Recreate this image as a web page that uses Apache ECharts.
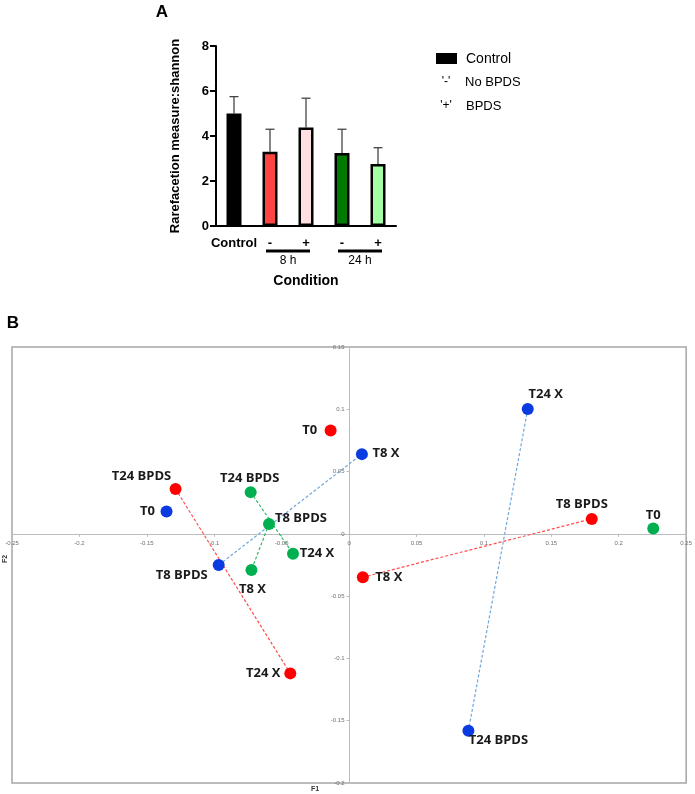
<!DOCTYPE html>
<html>
<head>
<meta charset="utf-8">
<script src="https://cdn.jsdelivr.net/npm/echarts@6/dist/echarts.min.js"></script>
<style>html,body{margin:0;padding:0;background:#fff;}#chart{width:695px;height:794px;}</style>
</head>
<body>
<div id="chart"></div>
<script>
// ---- Panel A data ----
const categories = ['Control', '-', '+', '-', '+'];
const shannonMean = [5.0, 3.3, 4.38, 3.24, 2.76];
const shannonUpper = [5.75, 4.3, 5.68, 4.3, 3.48];
const barColors = ['#000000', '#ff4444', '#ffdfe2', '#007a00', '#a3ffa3'];
const timeGroups = [[1, 2, '8 h'], [3, 4, '24 h']];

// ---- Panel B data ----
const f1Range = [-0.25, 0.25];
const f2Range = [-0.2, 0.15];

const redNames = ['T0', 'T24 BPDS', 'T24 X', 'T8 X', 'T8 BPDS'];
const redF1 = [-0.0137, -0.1287, -0.0436, 0.0102, 0.180];
const redF2 = [0.083, 0.036, -0.112, -0.0348, 0.012];
const redLinks = [[1, 2], [3, 4]];

const blueNames = ['T0', 'T8 BPDS', 'T8 X', 'T24 X', 'T24 BPDS'];
const blueF1 = [-0.1354, -0.0967, 0.0095, 0.1325, 0.0885];
const blueF2 = [0.018, -0.025, 0.064, 0.1003, -0.158];
const blueLinks = [[1, 2], [3, 4]];

const greenNames = ['T24 BPDS', 'T8 BPDS', 'T24 X', 'T8 X', 'T0'];
const greenF1 = [-0.073, -0.0594, -0.0416, -0.0724, 0.2256];
const greenF2 = [0.0335, 0.008, -0.016, -0.029, 0.0043];
const greenLinks = [[0, 2], [1, 3]];

// label placement (style only): offset of label centre from point centre
const redLabelOff = [[-21, 0], [-34, -13], [-27, 0], [26, 0], [-10, -15]];
const blueLabelOff = [[-19, 0], [-37, 10], [24, -1], [18, -15], [30, 10]];
const greenLabelOff = [[-1, -14], [32, -6], [24, 0], [1, 19], [0, -13]];

const W = 695, H = 794;
const gridB = {left: 12, right: 8, top: 347, bottom: 11};
const gridBW = W - gridB.left - gridB.right;
const gridBH = H - gridB.top - gridB.bottom;
// place the axes through the origin (as the reference draws them)
const xAxisShift = -gridBH * (0 - f2Range[0]) / (f2Range[1] - f2Range[0]);
const yAxisShift = -gridBW * (0 - f1Range[0]) / (f1Range[1] - f1Range[0]);

const chart = echarts.init(document.getElementById('chart'), null, {renderer: 'canvas'});

function scatterSeries(name, color, names, xs, ys, offs) {
  return {
    type: 'scatter', name: name, xAxisIndex: 1, yAxisIndex: 1, z: 5,
    symbolSize: 12,
    itemStyle: {color: color, opacity: 1},
    data: names.map((n, i) => ({
      value: [xs[i], ys[i]], name: n,
      label: {
        show: true, position: 'inside', offset: offs[i],
        formatter: n, color: '#1a1a1a', fontFamily: 'Open Sans', fontWeight: 'bold', fontSize: 13
      }
    })),
    emphasis: {disabled: true}
  };
}
function linkSeries(color, links, xs, ys) {
  return links.map(l => ({
    type: 'line', xAxisIndex: 1, yAxisIndex: 1, z: 2, symbol: 'none', silent: true,
    lineStyle: {color: color, width: 1.2, type: [3, 2]},
    data: [[xs[l[0]], ys[l[0]]], [xs[l[1]], ys[l[1]]]]
  }));
}
const fmt = v => String(parseFloat(v.toFixed(2)));
const tinyLabel = {fontSize: 6, color: '#707070', fontFamily: 'Liberation Sans', formatter: fmt, showMinLabel: true, showMaxLabel: true};

const option = {
  animation: false,
  backgroundColor: '#ffffff',
  grid: [
    {left: 216, top: 46, width: 180, height: 180},
    Object.assign({show: true, borderColor: '#a6a6a6', borderWidth: 1.5}, gridB)
  ],
  xAxis: [
    {
      gridIndex: 0, type: 'category', data: categories,
      axisLine: {lineStyle: {color: '#000', width: 2}},
      axisTick: {alignWithLabel: true, length: 6, lineStyle: {color: '#000', width: 2}},
      axisLabel: {color: '#000', fontFamily: 'Liberation Sans', fontWeight: 'bold', fontSize: 13, margin: 11, interval: 0},
      name: 'Condition', nameLocation: 'middle', nameGap: 48,
      nameTextStyle: {color: '#000', fontFamily: 'Liberation Sans', fontWeight: 'bold', fontSize: 14}
    },
    {
      gridIndex: 1, type: 'value', min: f1Range[0], max: f1Range[1], interval: 0.05,
      position: 'bottom', offset: xAxisShift,
      axisLine: {onZero: false, lineStyle: {color: '#bdbdbd', width: 1}},
      axisTick: {show: true, length: 3, lineStyle: {color: '#bdbdbd'}},
      axisLabel: Object.assign({margin: 6}, tinyLabel),
      splitLine: {show: false}
    }
  ],
  yAxis: [
    {
      gridIndex: 0, type: 'value', min: 0, max: 8, interval: 2,
      axisLine: {show: true, lineStyle: {color: '#000', width: 2}},
      axisTick: {show: true, length: 6, lineStyle: {color: '#000', width: 2}},
      axisLabel: {color: '#000', fontFamily: 'Liberation Sans', fontWeight: 'bold', fontSize: 13, margin: 7},
      splitLine: {show: false},
      name: 'Rarefacetion measure:shannon', nameLocation: 'middle', nameGap: 34, nameRotate: 90,
      nameTextStyle: {color: '#000', fontFamily: 'Liberation Sans', fontWeight: 'bold', fontSize: 13}
    },
    {
      gridIndex: 1, type: 'value', min: f2Range[0], max: f2Range[1], interval: 0.05,
      position: 'left', offset: yAxisShift,
      axisLine: {show: true, onZero: false, lineStyle: {color: '#bdbdbd', width: 1}},
      axisTick: {show: true, length: 3, lineStyle: {color: '#bdbdbd'}},
      axisLabel: Object.assign({margin: 5}, tinyLabel),
      splitLine: {show: false}
    }
  ],
  series: [
    {
      type: 'bar', xAxisIndex: 0, yAxisIndex: 0, barWidth: 15, z: 3,
      data: shannonMean.map((v, i) => ({value: v, itemStyle: {color: barColors[i]}})),
      itemStyle: {borderColor: '#000', borderWidth: 2.5}
    },
    {
      type: 'custom', xAxisIndex: 0, yAxisIndex: 0, z: 2, silent: true,
      data: shannonMean.map((v, i) => [i, v, shannonUpper[i]]),
      renderItem: function (params, api) {
        const lo = api.coord([api.value(0), api.value(1)]);
        const hi = api.coord([api.value(0), api.value(2)]);
        const st = {stroke: '#444', lineWidth: 1.3};
        return {type: 'group', children: [
          {type: 'line', shape: {x1: lo[0], y1: lo[1], x2: hi[0], y2: hi[1]}, style: st},
          {type: 'line', shape: {x1: hi[0] - 4.5, y1: hi[1], x2: hi[0] + 4.5, y2: hi[1]}, style: st}
        ]};
      }
    },
    {
      type: 'custom', xAxisIndex: 0, yAxisIndex: 0, silent: true, clip: false,
      data: timeGroups,
      renderItem: function (params, api) {
        const a = api.coord([api.value(0), 0]);
        const b = api.coord([api.value(1), 0]);
        const y = a[1] + 25;
        return {type: 'group', children: [
          {type: 'line', shape: {x1: a[0] - 4, y1: y, x2: b[0] + 4, y2: y}, style: {stroke: '#000', lineWidth: 3}},
          {type: 'text', x: (a[0] + b[0]) / 2, y: y + 10,
            style: {text: timeGroups[params.dataIndex][2], fill: '#000', fontFamily: 'Liberation Sans', fontSize: 12, align: 'center', verticalAlign: 'middle'}}
        ]};
      }
    },
    ...linkSeries('#ff4d4d', redLinks, redF1, redF2),
    ...linkSeries('#6ea6dd', blueLinks, blueF1, blueF2),
    ...linkSeries('#2dbb66', greenLinks, greenF1, greenF2),
    scatterSeries('red', '#ff0000', redNames, redF1, redF2, redLabelOff),
    scatterSeries('blue', '#0a3be0', blueNames, blueF1, blueF2, blueLabelOff),
    scatterSeries('green', '#00b050', greenNames, greenF1, greenF2, greenLabelOff)
  ],
  graphic: [
    {type: 'text', x: 162, y: 12, style: {text: 'A', fill: '#000', fontFamily: 'Liberation Sans', fontWeight: 'bold', fontSize: 17, align: 'center', verticalAlign: 'middle'}},
    {type: 'text', x: 13, y: 323, style: {text: 'B', fill: '#000', fontFamily: 'Liberation Sans', fontWeight: 'bold', fontSize: 17, align: 'center', verticalAlign: 'middle'}},
    {type: 'rect', shape: {x: 436, y: 53, width: 21, height: 11}, style: {fill: '#000'}},
    {type: 'text', x: 466, y: 59, style: {text: 'Control', fill: '#000', fontFamily: 'Liberation Sans', fontSize: 14, verticalAlign: 'middle'}},
    {type: 'text', x: 446, y: 82, style: {text: "'-'", fill: '#000', fontFamily: 'Liberation Sans', fontSize: 12, align: 'center', verticalAlign: 'middle'}},
    {type: 'text', x: 465, y: 82, style: {text: 'No BPDS', fill: '#000', fontFamily: 'Liberation Sans', fontSize: 13, verticalAlign: 'middle'}},
    {type: 'text', x: 446, y: 106, style: {text: "'+'", fill: '#000', fontFamily: 'Liberation Sans', fontSize: 12, align: 'center', verticalAlign: 'middle'}},
    {type: 'text', x: 466, y: 106, style: {text: 'BPDS', fill: '#000', fontFamily: 'Liberation Sans', fontSize: 13, verticalAlign: 'middle'}},
    {type: 'text', x: 315, y: 789, style: {text: 'F1', fill: '#333', fontFamily: 'Liberation Sans', fontWeight: 'bold', fontSize: 7, align: 'center', verticalAlign: 'middle'}},
    {type: 'text', x: 5, y: 559, rotation: Math.PI / 2, style: {text: 'F2', fill: '#333', fontFamily: 'Liberation Sans', fontWeight: 'bold', fontSize: 7, align: 'center', verticalAlign: 'middle'}}
  ]
};
chart.setOption(option);
</script>
</body>
</html>
